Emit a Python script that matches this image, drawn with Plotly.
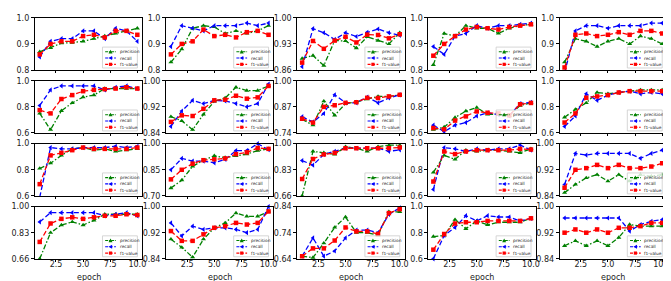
import plotly.graph_objects as go

epochs = list(range(1, 11))
xtick_vals = [2.5, 5.0, 7.5, 10.0]
xtick_text = ["2.5", "5.0", "7.5", "10.0"]
x_label = "epoch"

# y-axis limits per panel (row-major, 4 rows x 5 columns)
y_low = [0.80, 0.80, 0.86, 0.80, 0.80,
         0.60, 0.84, 0.74, 0.60, 0.60,
         0.60, 0.70, 0.66, 0.60, 0.84,
         0.66, 0.84, 0.64, 0.60, 0.84]
y_high = [1.00, 1.00, 1.00, 1.00, 1.00,
          1.00, 1.00, 1.00, 1.00, 1.00,
          1.00, 1.00, 1.00, 1.00, 1.00,
          1.00, 1.00, 0.84, 1.00, 1.00]
y_ticktext = [["0.8", "0.9", "1.0"], ["0.8", "0.9", "1.0"], ["0.86", "0.93", "1.00"], ["0.8", "0.9", "1.0"], ["0.8", "0.9", "1.0"],
              ["0.6", "0.8", "1.0"], ["0.84", "0.92", "1.00"], ["0.74", "0.87", "1.00"], ["0.6", "0.8", "1.0"], ["0.6", "0.8", "1.0"],
              ["0.6", "0.8", "1.0"], ["0.70", "0.85", "1.00"], ["0.66", "0.83", "1.00"], ["0.6", "0.8", "1.0"], ["0.84", "0.92", "1.00"],
              ["0.66", "0.83", "1.00"], ["0.84", "0.92", "1.00"], ["0.64", "0.74", "0.84"], ["0.6", "0.8", "1.0"], ["0.84", "0.92", "1.00"]]

precision = [
    [0.87, 0.885, 0.903, 0.905, 0.91, 0.92, 0.93, 0.94, 0.95, 0.96],
    [0.83, 0.88, 0.96, 0.97, 0.965, 0.94, 0.95, 0.94, 0.95, 0.97],
    [0.891, 0.899, 0.872, 0.939, 0.938, 0.919, 0.949, 0.939, 0.93, 0.96],
    [0.82, 0.94, 0.93, 0.97, 0.96, 0.96, 0.94, 0.96, 0.97, 0.975],
    [0.83, 0.92, 0.91, 0.89, 0.91, 0.92, 0.90, 0.93, 0.92, 0.90],
    [0.75, 0.625, 0.77, 0.83, 0.875, 0.89, 0.94, 0.94, 0.94, 0.94],
    [0.89, 0.877, 0.85, 0.897, 0.937, 0.947, 0.98, 0.97, 0.97, 0.984],
    [0.808, 0.779, 0.898, 0.828, 0.886, 0.894, 0.909, 0.922, 0.922, 0.93],
    [0.625, 0.645, 0.718, 0.768, 0.795, 0.743, 0.743, 0.733, 0.81, 0.83],
    [0.72, 0.78, 0.83, 0.91, 0.90, 0.91, 0.92, 0.93, 0.93, 0.93],
    [0.81, 0.85, 0.91, 0.96, 0.97, 0.95, 0.96, 0.94, 0.95, 0.96],
    [0.745, 0.79, 0.87, 0.905, 0.93, 0.92, 0.93, 0.94, 0.96, 0.97],
    [0.66, 0.95, 0.94, 0.93, 0.98, 0.97, 0.95, 0.98, 0.99, 0.99],
    [0.78, 0.91, 0.88, 0.95, 0.94, 0.95, 0.95, 0.94, 0.93, 0.96],
    [0.85, 0.875, 0.895, 0.905, 0.885, 0.905, 0.885, 0.905, 0.90, 0.905],
    [0.66, 0.83, 0.88, 0.90, 0.88, 0.91, 0.95, 0.95, 0.95, 0.95],
    [0.90, 0.875, 0.845, 0.90, 0.935, 0.95, 0.98, 0.97, 0.97, 0.985],
    [0.65, 0.645, 0.70, 0.76, 0.80, 0.74, 0.74, 0.73, 0.82, 0.82],
    [0.77, 0.78, 0.90, 0.83, 0.89, 0.86, 0.88, 0.88, 0.88, 0.91],
    [0.88, 0.895, 0.88, 0.895, 0.88, 0.905, 0.945, 0.94, 0.94, 0.94],
]

recall = [
    [0.85, 0.91, 0.92, 0.92, 0.95, 0.95, 0.92, 0.96, 0.95, 0.91],
    [0.89, 0.97, 0.96, 0.95, 0.97, 0.97, 0.97, 0.98, 0.97, 0.98],
    [0.869, 0.971, 0.96, 0.942, 0.96, 0.95, 0.961, 0.97, 0.96, 0.953],
    [0.89, 0.86, 0.93, 0.94, 0.97, 0.96, 0.97, 0.97, 0.975, 0.98],
    [0.79, 0.95, 0.97, 0.97, 0.96, 0.97, 0.97, 0.97, 0.98, 0.98],
    [0.81, 0.93, 0.96, 0.96, 0.96, 0.96, 0.93, 0.95, 0.96, 0.94],
    [0.86, 0.907, 0.94, 0.93, 0.94, 0.938, 0.93, 0.92, 0.93, 0.99],
    [0.821, 0.795, 0.837, 0.93, 0.89, 0.89, 0.919, 0.89, 0.914, 0.93],
    [0.66, 0.61, 0.66, 0.68, 0.73, 0.755, 0.74, 0.73, 0.825, 0.835],
    [0.65, 0.73, 0.90, 0.85, 0.89, 0.91, 0.92, 0.90, 0.91, 0.90],
    [0.59, 0.97, 0.96, 0.96, 0.97, 0.97, 0.97, 0.98, 0.97, 0.98],
    [0.85, 0.915, 0.90, 0.90, 0.89, 0.91, 0.96, 0.96, 1.00, 0.965],
    [0.89, 0.86, 0.93, 0.95, 0.97, 0.97, 0.97, 0.97, 0.95, 0.96],
    [0.65, 0.97, 0.96, 0.94, 0.96, 0.95, 0.96, 0.96, 0.99, 0.95],
    [0.875, 0.97, 0.965, 0.97, 0.97, 0.97, 0.97, 0.955, 0.97, 0.98],
    [0.90, 0.96, 0.96, 0.96, 0.96, 0.96, 0.94, 0.95, 0.96, 0.94],
    [0.95, 0.91, 0.94, 0.93, 0.935, 0.935, 0.93, 0.92, 0.93, 1.00],
    [0.65, 0.72, 0.65, 0.67, 0.72, 0.75, 0.75, 0.74, 0.81, 0.835],
    [0.60, 0.78, 0.84, 0.93, 0.89, 0.93, 0.92, 0.92, 0.89, 0.91],
    [0.965, 0.965, 0.965, 0.965, 0.965, 0.965, 0.925, 0.945, 0.955, 0.96],
]

f1_value = [
    [0.86, 0.90, 0.91, 0.91, 0.93, 0.935, 0.925, 0.95, 0.95, 0.935],
    [0.86, 0.90, 0.91, 0.955, 0.93, 0.935, 0.925, 0.945, 0.95, 0.935],
    [0.88, 0.938, 0.917, 0.939, 0.949, 0.934, 0.955, 0.954, 0.945, 0.956],
    [0.855, 0.90, 0.93, 0.955, 0.965, 0.96, 0.955, 0.965, 0.97, 0.975],
    [0.81, 0.935, 0.94, 0.93, 0.935, 0.945, 0.935, 0.95, 0.95, 0.94],
    [0.775, 0.75, 0.86, 0.89, 0.92, 0.93, 0.935, 0.94, 0.95, 0.94],
    [0.874, 0.894, 0.892, 0.914, 0.94, 0.942, 0.954, 0.945, 0.949, 0.984],
    [0.811, 0.792, 0.87, 0.878, 0.89, 0.893, 0.915, 0.914, 0.922, 0.93],
    [0.638, 0.628, 0.695, 0.727, 0.765, 0.755, 0.75, 0.735, 0.82, 0.83],
    [0.68, 0.75, 0.87, 0.88, 0.89, 0.91, 0.92, 0.92, 0.92, 0.92],
    [0.69, 0.91, 0.93, 0.95, 0.97, 0.96, 0.96, 0.96, 0.96, 0.97],
    [0.795, 0.85, 0.885, 0.905, 0.91, 0.915, 0.94, 0.95, 0.975, 0.97],
    [0.77, 0.90, 0.93, 0.94, 0.97, 0.97, 0.97, 0.97, 0.97, 0.975],
    [0.71, 0.94, 0.92, 0.94, 0.95, 0.95, 0.95, 0.95, 0.96, 0.955],
    [0.865, 0.92, 0.925, 0.935, 0.925, 0.935, 0.925, 0.925, 0.93, 0.94],
    [0.77, 0.89, 0.92, 0.93, 0.92, 0.93, 0.94, 0.94, 0.95, 0.945],
    [0.925, 0.895, 0.895, 0.915, 0.935, 0.94, 0.95, 0.945, 0.95, 0.985],
    [0.65, 0.68, 0.68, 0.71, 0.76, 0.745, 0.745, 0.735, 0.815, 0.83],
    [0.67, 0.79, 0.87, 0.88, 0.88, 0.89, 0.89, 0.89, 0.89, 0.91],
    [0.92, 0.93, 0.92, 0.93, 0.92, 0.935, 0.935, 0.94, 0.95, 0.95],
]

series_names = ["precision", "recall", "f1-value"]
series_colors = ["#008000", "#0000ff", "#ff0000"]
series_dash = ["5px,2px,1.5px,2px", "5px,2.5px", "5px,2.5px"]
series_symbol = ["triangle-up", "triangle-left", "square"]

W, H = 671, 281
col_left = [27, 159, 291, 423, 555]
panel_w = 108
row_top = [6, 71, 136, 201]
panel_h = 54

fig = go.Figure()
layout = dict(
    width=W, height=H,
    margin=dict(l=0, r=0, t=0, b=0),
    paper_bgcolor="white", plot_bgcolor="white",
    showlegend=False,
    font=dict(family="DejaVu Sans", color="#222222"),
)
shapes = []
annotations = []

for r in range(4):
    for c in range(5):
        k = r * 5 + c
        n = k + 1
        xs = "" if n == 1 else str(n)
        x0 = col_left[c] / W
        x1 = (col_left[c] + panel_w) / W
        y1 = 1 - row_top[r] / H
        y0 = 1 - (row_top[r] + panel_h) / H
        lo, hi = y_low[k], y_high[k]
        bottom = r == 3
        layout["xaxis" + xs] = dict(
            domain=[x0, x1], anchor="y" + xs, range=[0.55, 10.45],
            showgrid=False, zeroline=False, showline=True, mirror=True,
            linecolor="black", linewidth=1, ticks="outside", ticklen=2,
            tickwidth=0.8, tickcolor="black",
            tickvals=xtick_vals, ticktext=xtick_text if bottom else [""] * 4,
            showticklabels=bottom, tickfont=dict(size=8, family="DejaVu Sans"),
            ticklabelstandoff=-4,
        )
        layout["yaxis" + xs] = dict(
            domain=[y0, y1], anchor="x" + xs, range=[lo, hi],
            showgrid=False, zeroline=False, showline=True, mirror=True,
            linecolor="black", linewidth=1, ticks="outside", ticklen=3,
            tickwidth=0.8, tickcolor="black",
            tickvals=[lo, (lo + hi) / 2, hi], ticktext=y_ticktext[k],
            tickfont=dict(size=8, family="DejaVu Sans"),
        )
        for s, data in enumerate([precision[k], recall[k], f1_value[k]]):
            fig.add_trace(go.Scatter(
                x=epochs, y=data, xaxis="x" + xs, yaxis="y" + xs,
                mode="lines+markers", name=series_names[s],
                line=dict(color=series_colors[s], width=1.3, dash=series_dash[s]),
                marker=dict(symbol=series_symbol[s], size=4.5, color=series_colors[s]),
                cliponaxis=False,
            ))
        xr = "x" + xs + " domain"
        yr = "y" + xs + " domain"
        if bottom:
            annotations.append(dict(xref=xr, yref="paper", x=0.5, y=1 - 274 / H, text=x_label,
                                    showarrow=False, xanchor="center", yanchor="middle", borderpad=0,
                                    font=dict(size=8, family="DejaVu Sans", color="#222222")))
        # legend box drawn in axis-domain coordinates
        shapes.append(dict(type="rect", xref=xr, yref=yr, x0=0.63, x1=0.955, y0=0.04, y1=0.44,
                           line=dict(color="#cccccc", width=0.8), fillcolor="rgba(255,255,255,0.8)", layer="above"))
        ypos = [0.35, 0.23, 0.11]
        for s in range(3):
            shapes.append(dict(type="line", xref=xr, yref=yr, x0=0.655, x1=0.755, y0=ypos[s], y1=ypos[s],
                               line=dict(color=series_colors[s], width=1.1, dash="3px,1.5px" if s else "3px,1px,1px,1px"),
                               layer="above"))
            if s == 0:
                path = "M-2,-1.6L2,-1.6L0,2Z"
            elif s == 1:
                path = "M-2,0L1.6,-2L1.6,2Z"
            else:
                path = "M-1.6,-1.6L1.6,-1.6L1.6,1.6L-1.6,1.6Z"
            shapes.append(dict(type="path", xref=xr, yref=yr, xsizemode="pixel", ysizemode="pixel",
                               xanchor=0.705, yanchor=ypos[s], path=path,
                               fillcolor=series_colors[s], line=dict(width=0), layer="above"))
            annotations.append(dict(xref=xr, yref=yr, x=0.77, y=ypos[s], text=series_names[s],
                                    showarrow=False, xanchor="left", yanchor="middle",
                                    font=dict(size=4.3, family="DejaVu Sans", color="#222222")))

layout["shapes"] = shapes
layout["annotations"] = annotations
fig.update_layout(**layout)
fig.write_html("out.html")
